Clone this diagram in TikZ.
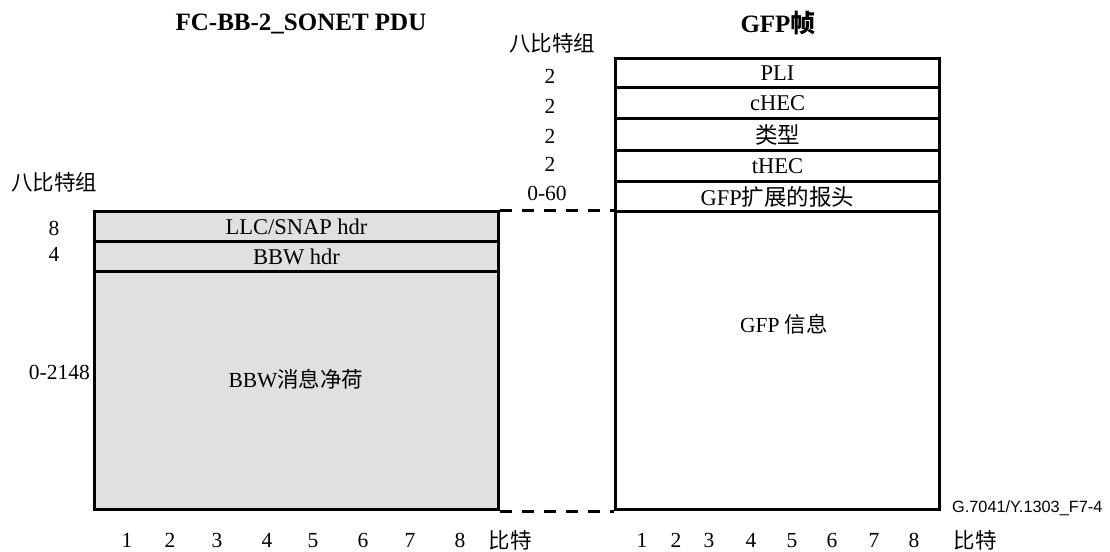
\documentclass[tikz,border=0pt]{standalone}
\usepackage{fontspec}
\setmainfont{Liberation Serif}
\newfontfamily\cjk{Noto Sans CJK SC}
\newfontfamily\labsans{Liberation Sans}
\newcommand{\zh}[1]{{\cjk #1}}
\definecolor{boxgray}{RGB}{224,224,224}
\begin{document}
\begin{tikzpicture}[x=1pt,y=-1pt,
  fld/.style={draw, line width=3pt, inner sep=0pt, anchor=north west, font=\fontsize{22.5}{24}\selectfont},
  grayfld/.style={fld, fill=boxgray},
  lbl/.style={inner sep=0pt, font=\fontsize{21.5}{23}\selectfont},
  blbl/.style={lbl, anchor=base},
  ttl/.style={inner sep=0pt, font=\fontsize{25}{27}\selectfont\bfseries},
  dashline/.style={line width=3pt, dash pattern=on 12pt off 10pt}]
\useasboundingbox (0,0) rectangle (1110,551);
% titles
\node[ttl] (t1) at (301,24) {FC-BB-2\_SONET PDU};
\node[ttl] (t2) at (778,23) {GFP\zh{帧}};
% left structure
\node[grayfld, minimum width=404pt, minimum height=30pt] (llc) at (93,210) {LLC/SNAP hdr};
\node[grayfld, minimum width=404pt, minimum height=30pt] (bbwh) at (93,240) {BBW hdr};
\node[grayfld, minimum width=404pt, minimum height=238pt] (pay) at (93,270) {};
\node[lbl] (paytxt) at (296,379) {BBW\zh{消息净荷}};
% right structure
\node[fld, minimum width=324pt, minimum height=29pt] (pli) at (614,57) {PLI};
\node[fld, minimum width=324pt, minimum height=31pt] (chec) at (614,86) {cHEC};
\node[fld, minimum width=324pt, minimum height=32pt] (typ) at (614,117) {\zh{类型}};
\node[fld, minimum width=324pt, minimum height=31pt] (thec) at (614,149) {tHEC};
\node[fld, minimum width=324pt, minimum height=30pt] (ext) at (614,180) {GFP\zh{扩展的报头}};
\node[fld, minimum width=324pt, minimum height=298pt] (info) at (614,210) {};
\node[lbl] (infotxt) at (784,324) {GFP \zh{信息}};
% connectors
\draw[dashline] (llc.north east) -- (info.north west);
\draw[dashline] (pay.south east) -- (info.south west);
% left octet labels
\node[lbl] (lhead) at (54,182) {\zh{八比特组}};
\node[blbl] (l8) at (54,235) {8};
\node[blbl] (l4) at (54,261) {4};
\node[blbl, anchor=base east] (l2148) at (90,379) {0-2148};
% right octet labels
\node[lbl] (rhead) at (552,43) {\zh{八比特组}};
\node[blbl] (r1) at (550,83) {2};
\node[blbl] (r2) at (550,113) {2};
\node[blbl] (r3) at (550,143) {2};
\node[blbl] (r4) at (550,171) {2};
\node[blbl] (r5) at (547,200) {0-60};
% bit labels
\foreach \n/\x in {1/127,2/170,3/217,4/267,5/313,6/363,7/410,8/460}
  \node[blbl] (lb\n) at (\x,547) {\n};
\node[lbl] (lbit) at (510,540) {\zh{比特}};
\foreach \n/\x in {1/642,2/676,3/709,4/751,5/792,6/832,7/874,8/914}
  \node[blbl] (rb\n) at (\x,547) {\n};
\node[lbl] (rbit) at (975,540) {\zh{比特}};
% figure id
\node[inner sep=0pt, anchor=west, font=\labsans\fontsize{16.3}{18}\selectfont] (fid) at (952,508) {G.7041/Y.1303\_F7-4};
\end{tikzpicture}
\end{document}
